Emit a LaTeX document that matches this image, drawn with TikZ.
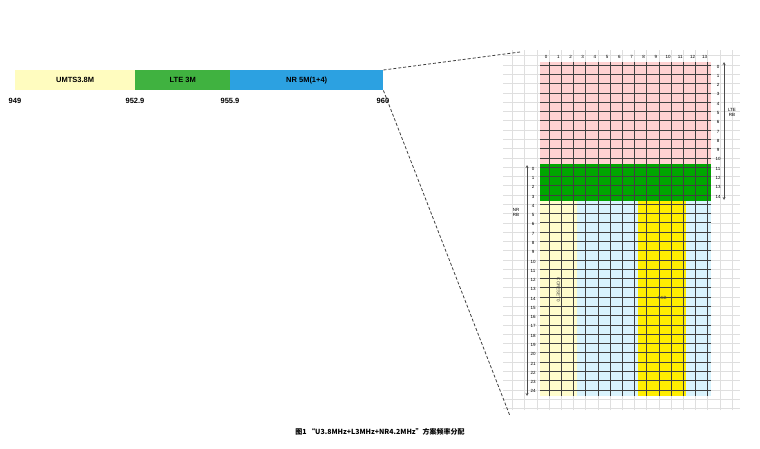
\documentclass[tikz,border=0pt]{standalone}
\usepackage{fontspec}
\setmainfont{Liberation Sans}
\newfontfamily\cjk{Noto Sans CJK SC}
\begin{document}
\begin{tikzpicture}[x=1pt,y=-1pt,
  seg/.style={draw=none,minimum height=20pt,inner sep=0pt,font=\bfseries\fontsize{7.5}{8}\selectfont},
  num/.style={font=\bfseries\fontsize{7.5}{8}\selectfont,inner sep=1pt},
  tiny/.style={font=\fontsize{4.5}{5}\selectfont,inner sep=0pt},
  zoomline/.style={densely dashed,thick,gray!50!black}]
\useasboundingbox (0,0) rectangle (760,448);
\def\cw{12.2}\def\rh{9.28}\def\gx{540}\def\gy{62}
\draw[gray!25,step=9.28pt,xstep=12.2pt] (503,50) grid (740,410);
\foreach \c in {0,...,13}{
 \foreach \r in {0,...,35}{
  \pgfmathsetmacro\col{\r<11?"pink!70":(\r<15?"green!65!black":(\c<3?"yellow!20":((\c>7 && \c<12)?"yellow!95!orange":"cyan!15")))}
  \fill[\col] (\gx+\c*\cw,\gy+\r*\rh) rectangle ++(\cw,\rh);
 }}
\draw[gray!50!black,line width=0.5pt] (\gx,\gy) grid[xstep=\cw pt,ystep=\rh pt] (\gx+14*\cw,\gy+36*\rh);
\foreach \c in {0,...,13} \node[tiny] (c\c) at (\gx+\c*\cw+6.1,57) {\c};
\foreach \r in {0,...,14} \node[tiny] (l\r) at (718,\gy+\r*\rh+4.6) {\r};
\foreach \r in {0,...,24} \node[tiny] (n\r) at (533,\gy+11*\rh+\r*\rh+4.6) {\r};
\coordinate (lt) at (724,62); \coordinate (lb) at (724,200);
\draw[gray!60!black,<->,>=stealth] (lt) -- (lb);
\node[tiny,align=center] (ltelab) at (732,112) {LTE\\RB};
\coordinate (nt) at (527,165); \coordinate (nb) at (527,396);
\draw[gray!60!black,<->,>=stealth] (nt) -- (nb);
\node[tiny,align=center] (nrlab) at (516,212) {NR\\RB};
\node[tiny,gray!50!black,rotate=-90] (core) at (\gx+1.5*\cw,290) {CORESET0};
\node[tiny,gray!50!black] (ssb) at (\gx+10*\cw,298) {SSB};
\node[seg,fill=yellow!25,minimum width=120pt,anchor=north west] (u) at (15,70) {UMTS3.8M};
\node[seg,fill=green!60!black!75,minimum width=95pt,anchor=north west] (l) at (135,70) {LTE 3M};
\node[seg,fill=cyan!80!blue!85,minimum width=153pt,anchor=north west] (n) at (230,70) {NR 5M(1+4)};
\node[num] (a) at (15,101) {949};
\node[num] (b) at (135,101) {952.9};
\node[num] (c) at (230,101) {955.9};
\node[num] (d) at (383,101) {960};
\coordinate (z1) at (520,52); \coordinate (z2) at (510,416);
\draw[zoomline] (n.north east) -- (z1);
\draw[zoomline] (n.south east) -- (z2);
\node[font=\cjk\bfseries\fontsize{7}{8}\selectfont] (cap) at (380,432) {图1 “U3.8MHz+L3MHz+NR4.2MHz”方案频率分配};
\end{tikzpicture}
\end{document}
